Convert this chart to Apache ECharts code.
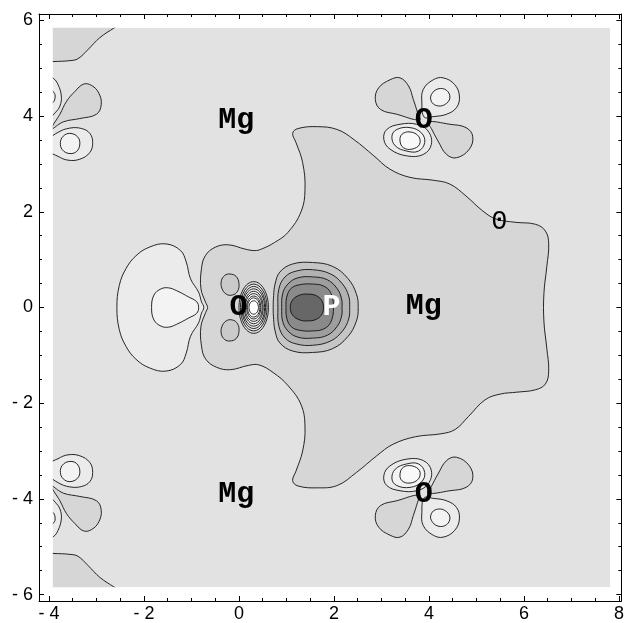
<!DOCTYPE html>
<html><head><meta charset="utf-8">
<script src="https://cdn.jsdelivr.net/npm/echarts@6/dist/echarts.min.js"></script>
<style>html,body{margin:0;padding:0;background:#fff}#c{width:627px;height:623px}</style>
</head><body><div id="c"></div>
<script>
// ---------- tick values ----------
const xMajor = [-4, -2, 0, 2, 4, 6, 8];
const yMajor = [-6, -4, -2, 0, 2, 4, 6];
const xMinor = [-4,-3.5,-3,-2.5,-2,-1.5,-1,-0.5,0,0.5,1,1.5,2,2.5,3,3.5,4,4.5,5,5.5,6,6.5,7,7.5,8];
const yMinor = [-6,-5.5,-5,-4.5,-4,-3.5,-3,-2.5,-2,-1.5,-1,-0.5,0,0.5,1,1.5,2,2.5,3,3.5,4,4.5,5,5.5,6];

// ---------- plotted region ----------
const regionX = [-3.92, 7.81];
const regionY = [-5.85, 5.85];

// ---------- contour outlines (data units) ----------
const centralZero = [[-0.66,0],[-0.70,0.10],[-0.80,0.39],[-0.79,0.81],[-0.71,1.08],[-0.50,1.26],[-0.22,1.31],[0.13,1.22],[0.33,1.19],[0.47,1.22],[0.75,1.36],[1.03,1.57],[1.31,2.01],[1.39,2.47],[1.34,3.03],[1.20,3.45],[1.13,3.64],[1.24,3.74],[1.65,3.78],[2.07,3.72],[2.42,3.51],[2.84,3.17],[3.18,2.89],[3.60,2.72],[4.09,2.66],[4.44,2.58],[4.78,2.33],[5.13,2.02],[5.41,1.85],[5.83,1.78],[6.24,1.74],[6.45,1.60],[6.52,1.33],[6.48,0.85],[6.42,0.30],[6.42,-0.30],[6.48,-0.85],[6.52,-1.33],[6.45,-1.60],[6.24,-1.72],[5.85,-1.77],[5.50,-1.81],[5.18,-1.93],[4.83,-2.28],[4.55,-2.55],[4.25,-2.64],[3.72,-2.70],[3.24,-2.86],[2.90,-3.10],[2.47,-3.45],[2.07,-3.72],[1.65,-3.77],[1.24,-3.73],[1.13,-3.62],[1.20,-3.42],[1.34,-3.00],[1.39,-2.50],[1.31,-2.04],[1.03,-1.63],[0.72,-1.36],[0.42,-1.20],[0.20,-1.21],[-0.18,-1.30],[-0.47,-1.25],[-0.70,-1.08],[-0.79,-0.80],[-0.80,-0.39],[-0.70,-0.10]];
const leftBlobOuter = [[-0.74,0],[-0.79,0.12],[-0.85,0.32],[-1.02,0.60],[-1.11,0.95],[-1.23,1.19],[-1.54,1.33],[-1.89,1.26],[-2.17,1.08],[-2.38,0.81],[-2.52,0.46],[-2.57,0],[-2.52,-0.46],[-2.38,-0.81],[-2.17,-1.08],[-1.89,-1.26],[-1.54,-1.33],[-1.23,-1.19],[-1.11,-0.95],[-1.02,-0.60],[-0.85,-0.32],[-0.79,-0.12]];
const leftBlobInner = [[-0.85,0],[-0.89,0.12],[-1.06,0.22],[-1.31,0.35],[-1.48,0.41],[-1.64,0.39],[-1.79,0.26],[-1.84,0],[-1.79,-0.26],[-1.64,-0.39],[-1.48,-0.41],[-1.31,-0.35],[-1.06,-0.22],[-0.89,-0.12]];
const oBlobTop = [[-0.19,0.70],[-0.06,0.65],[0.0,0.50],[-0.03,0.34],[-0.14,0.26],[-0.27,0.28],[-0.36,0.40],[-0.37,0.56],[-0.30,0.67]];
const oBlobBottom = [[-0.19,-0.70],[-0.06,-0.65],[0.0,-0.50],[-0.03,-0.34],[-0.14,-0.26],[-0.27,-0.28],[-0.36,-0.40],[-0.37,-0.56],[-0.30,-0.67]];
// dense rings next to the central O (centre, radii)
const wedgeCenter = [0.31, 0];
const wedgeRx = [0.31, 0.28, 0.25, 0.23, 0.20, 0.18, 0.15, 0.13, 0.10];
const wedgeRy = [0.54, 0.49, 0.44, 0.39, 0.34, 0.29, 0.24, 0.20, 0.14];
// rings round P
const pRing1 = [[0.72,0],[0.73,0.25],[0.76,0.49],[0.86,0.74],[1.13,0.91],[1.55,0.94],[1.97,0.86],[2.29,0.61],[2.47,0.29],[2.51,0],[2.47,-0.29],[2.29,-0.61],[1.97,-0.86],[1.55,-0.94],[1.13,-0.91],[0.86,-0.74],[0.76,-0.49],[0.73,-0.25]];
const pRing2 = [[0.82,0],[0.84,0.39],[0.97,0.64],[1.20,0.76],[1.55,0.79],[1.93,0.70],[2.18,0.49],[2.31,0.24],[2.33,0],[2.31,-0.24],[2.18,-0.49],[1.93,-0.70],[1.55,-0.79],[1.20,-0.76],[0.97,-0.64],[0.84,-0.39]];
const pRing3 = [[0.90,0],[0.92,0.29],[1.03,0.49],[1.24,0.62],[1.55,0.64],[1.86,0.58],[2.07,0.39],[2.16,0.18],[2.17,0],[2.16,-0.18],[2.07,-0.39],[1.86,-0.58],[1.55,-0.64],[1.24,-0.62],[1.03,-0.49],[0.92,-0.29]];
const pRing4 = [[0.99,0],[1.01,0.24],[1.11,0.41],[1.30,0.48],[1.55,0.49],[1.78,0.45],[1.93,0.31],[1.99,0],[1.93,-0.31],[1.78,-0.45],[1.55,-0.49],[1.30,-0.48],[1.11,-0.41],[1.01,-0.24]];
const pCore = [[1.08,0],[1.13,0.16],[1.28,0.26],[1.45,0.28],[1.62,0.25],[1.74,0.15],[1.78,0],[1.74,-0.15],[1.62,-0.25],[1.45,-0.28],[1.28,-0.26],[1.13,-0.16]];
// left corners
const cornerTop = [[-4.1,6.0],[-2.40,6.0],[-2.62,5.85],[-2.93,5.64],[-3.18,5.39],[-3.39,5.20],[-3.56,5.16],[-3.92,5.14],[-4.1,5.13]];
const cornerBottom = [[-4.1,-6.0],[-2.40,-6.0],[-2.62,-5.85],[-2.93,-5.64],[-3.18,-5.39],[-3.39,-5.20],[-3.56,-5.16],[-3.92,-5.14],[-4.1,-5.13]];
const edgeTopOuter = [[-4.1,4.85],[-3.91,4.79],[-3.81,4.66],[-3.74,4.42],[-3.77,4.21],[-3.87,4.07],[-3.95,4.0],[-4.1,3.98]];
const edgeTopInner = [[-4.1,4.6],[-3.92,4.52],[-3.87,4.42],[-3.92,4.28],[-4.1,4.22]];
const edgeBotOuter = [[-4.1,-4.85],[-3.91,-4.79],[-3.81,-4.66],[-3.74,-4.42],[-3.77,-4.21],[-3.87,-4.07],[-3.95,-4.0],[-4.1,-3.98]];
const edgeBotInner = [[-4.1,-4.6],[-3.92,-4.52],[-3.87,-4.42],[-3.92,-4.28],[-4.1,-4.22]];
const lobeTopLeft = [[-3.95,3.73],[-3.70,3.88],[-3.35,3.95],[-3.00,4.04],[-2.90,4.24],[-2.95,4.48],[-3.10,4.64],[-3.27,4.67],[-3.45,4.52],[-3.63,4.31],[-3.77,4.04]];
const lobeBotLeft = [[-3.95,-3.73],[-3.70,-3.88],[-3.35,-3.95],[-3.00,-4.04],[-2.90,-4.24],[-2.95,-4.48],[-3.10,-4.64],[-3.27,-4.67],[-3.45,-4.52],[-3.63,-4.31],[-3.77,-4.04]];
const ringTopLeftOuter = [[-4.0,3.50],[-3.81,3.66],[-3.56,3.75],[-3.31,3.74],[-3.14,3.64],[-3.08,3.45],[-3.14,3.24],[-3.35,3.10],[-3.60,3.08],[-3.81,3.16],[-4.0,3.28]];
const ringTopLeftInner = [[-3.56,3.64],[-3.40,3.57],[-3.35,3.42],[-3.42,3.26],[-3.58,3.22],[-3.72,3.30],[-3.76,3.45],[-3.70,3.58]];
const ringBotLeftOuter = [[-4.0,-3.50],[-3.81,-3.66],[-3.56,-3.75],[-3.31,-3.74],[-3.14,-3.64],[-3.08,-3.45],[-3.14,-3.24],[-3.35,-3.10],[-3.60,-3.08],[-3.81,-3.16],[-4.0,-3.28]];
const ringBotLeftInner = [[-3.56,-3.64],[-3.40,-3.57],[-3.35,-3.42],[-3.42,-3.26],[-3.58,-3.22],[-3.72,-3.30],[-3.76,-3.45],[-3.70,-3.58]];
// clover round the upper O
const cloverTopLobeA = [[3.80,3.92],[3.32,4.04],[2.98,4.14],[2.87,4.35],[2.94,4.59],[3.18,4.76],[3.39,4.80],[3.57,4.63],[3.67,4.35],[3.76,4.07]];
const cloverTopLobeB = [[3.98,3.88],[4.44,3.83],[4.78,3.76],[4.92,3.58],[4.85,3.31],[4.58,3.13],[4.37,3.20],[4.19,3.48],[4.05,3.74]];
const cloverTopRingA1 = [[3.90,3.98],[3.85,4.28],[3.88,4.56],[4.09,4.76],[4.30,4.80],[4.54,4.66],[4.64,4.42],[4.58,4.18],[4.37,4.04],[4.09,3.99]];
const cloverTopRingA2 = [[4.05,4.45],[4.19,4.57],[4.37,4.54],[4.44,4.38],[4.33,4.24],[4.16,4.22],[4.05,4.31]];
const cloverTopRingB1 = [[3.74,3.83],[3.39,3.83],[3.11,3.72],[3.05,3.51],[3.18,3.31],[3.53,3.17],[3.88,3.20],[4.05,3.41],[3.98,3.69]];
const cloverTopRingB2 = [[3.22,3.58],[3.32,3.72],[3.60,3.76],[3.84,3.65],[3.91,3.45],[3.78,3.27],[3.53,3.27],[3.29,3.38]];
const cloverTopRingB3 = [[3.43,3.62],[3.60,3.67],[3.78,3.58],[3.80,3.41],[3.64,3.31],[3.46,3.34],[3.39,3.48]];
// clover round the lower O
const cloverBotLobeA = [[3.80,-3.92],[3.32,-4.04],[2.98,-4.14],[2.87,-4.35],[2.94,-4.59],[3.18,-4.76],[3.39,-4.80],[3.57,-4.63],[3.67,-4.35],[3.76,-4.07]];
const cloverBotLobeB = [[3.98,-3.88],[4.44,-3.83],[4.78,-3.76],[4.92,-3.58],[4.85,-3.31],[4.58,-3.13],[4.37,-3.20],[4.19,-3.48],[4.05,-3.74]];
const cloverBotRingA1 = [[3.90,-3.98],[3.85,-4.28],[3.88,-4.56],[4.09,-4.76],[4.30,-4.80],[4.54,-4.66],[4.64,-4.42],[4.58,-4.18],[4.37,-4.04],[4.09,-3.99]];
const cloverBotRingA2 = [[4.05,-4.45],[4.19,-4.57],[4.37,-4.54],[4.44,-4.38],[4.33,-4.24],[4.16,-4.22],[4.05,-4.31]];
const cloverBotRingB1 = [[3.74,-3.83],[3.39,-3.83],[3.11,-3.72],[3.05,-3.51],[3.18,-3.31],[3.53,-3.17],[3.88,-3.20],[4.05,-3.41],[3.98,-3.69]];
const cloverBotRingB2 = [[3.22,-3.58],[3.32,-3.72],[3.60,-3.76],[3.84,-3.65],[3.91,-3.45],[3.78,-3.27],[3.53,-3.27],[3.29,-3.38]];
const cloverBotRingB3 = [[3.43,-3.62],[3.60,-3.67],[3.78,-3.58],[3.80,-3.41],[3.64,-3.31],[3.46,-3.34],[3.39,-3.48]];

// ---------- atom labels ----------
const atomText = ['Mg', 'Mg', 'Mg', 'O', 'O', 'O', 'P'];
const atomX    = [-0.06, -0.06, 3.89, -0.01, 3.89, 3.89, 1.95];
const atomY    = [3.91, -3.90, 0.02, 0.0, 3.90, -3.90, 0.0];
const contourLabelText = ['0'];
const contourLabelX = [5.48];
const contourLabelY = [1.79];

// ---------- styles ----------
const C = {
  bg: '#e2e2e2', pos1: '#d6d6d6', pos2: '#cacaca', neg1: '#ebebeb', neg2: '#f3f3f3', neg3: '#f9f9f9',
  p: ['#c6c6c6', '#b2b2b2', '#9e9e9e', '#8a8a8a', '#676767'],
  wedge: ['#e0e0e0', '#e6e6e6', '#ebebeb', '#efefef', '#f3f3f3', '#f6f6f6', '#f9f9f9', '#fcfcfc', '#ffffff']
};
const LINE = '#111';

const polyLayers = [];
function addPoly(pts, fill) { polyLayers.push({ kind: 'poly', pts, fill }); }
function addEllipse(c, rx, ry, fill) { polyLayers.push({ kind: 'ellipse', c, rx, ry, fill }); }

addPoly(centralZero, C.pos1);
addPoly(leftBlobOuter, C.neg1);
addPoly(leftBlobInner, C.neg2);
addPoly(oBlobTop, C.pos2);
addPoly(oBlobBottom, C.pos2);
wedgeRx.forEach((rx, i) => addEllipse(wedgeCenter, rx, wedgeRy[i], C.wedge[i]));
[pRing1, pRing2, pRing3, pRing4, pCore].forEach((r, i) => addPoly(r, C.p[i]));
addPoly(cornerTop, C.pos1);
addPoly(cornerBottom, C.pos1);
addPoly(edgeTopOuter, C.neg1); addPoly(edgeTopInner, C.neg2);
addPoly(edgeBotOuter, C.neg1); addPoly(edgeBotInner, C.neg2);
addPoly(lobeTopLeft, C.pos1); addPoly(lobeBotLeft, C.pos1);
addPoly(ringTopLeftOuter, C.neg1); addPoly(ringTopLeftInner, C.neg2);
addPoly(ringBotLeftOuter, C.neg1); addPoly(ringBotLeftInner, C.neg2);
addPoly(cloverTopLobeA, C.pos1); addPoly(cloverTopLobeB, C.pos1);
addPoly(cloverTopRingA1, C.neg1); addPoly(cloverTopRingA2, C.neg2);
addPoly(cloverTopRingB1, C.neg1); addPoly(cloverTopRingB2, C.neg2); addPoly(cloverTopRingB3, C.neg3);
addPoly(cloverBotLobeA, C.pos1); addPoly(cloverBotLobeB, C.pos1);
addPoly(cloverBotRingA1, C.neg1); addPoly(cloverBotRingA2, C.neg2);
addPoly(cloverBotRingB1, C.neg1); addPoly(cloverBotRingB2, C.neg2); addPoly(cloverBotRingB3, C.neg3);

const series = [];
// plotted-region background
series.push({
  type: 'custom', silent: true, animation: false, z: 2,
  data: [[regionX[0], regionY[0]]],
  renderItem: (params, api) => {
    const a = api.coord([regionX[0], regionY[1]]);
    const b = api.coord([regionX[1], regionY[0]]);
    return { type: 'rect', z2: 0, shape: { x: a[0], y: a[1], width: b[0] - a[0], height: b[1] - a[1] }, style: { fill: C.bg } };
  }
});
polyLayers.forEach((L, i) => {
  series.push({
    type: 'custom', silent: true, animation: false, z: 2,
    data: [L.kind === 'poly' ? L.pts[0] : L.c],
    renderItem: (params, api) => {
      if (L.kind === 'ellipse') {
        const c = api.coord(L.c);
        const s = api.size([L.rx, L.ry], L.c);
        return { type: 'ellipse', z2: i + 1, shape: { cx: c[0], cy: c[1], rx: s[0], ry: s[1] },
                 style: { fill: L.fill, stroke: LINE, lineWidth: 0.9 } };
      }
      return { type: 'polygon', z2: i + 1,
               shape: { points: L.pts.map(p => api.coord(p)), smooth: 0.4 },
               style: { fill: L.fill, stroke: LINE, lineWidth: 0.9 } };
    }
  });
});
// white surround outside the plotted region
series.push({
  type: 'custom', silent: true, animation: false, z: 3,
  data: [[regionX[0], regionY[0]]],
  renderItem: (params, api) => {
    const cs = params.coordSys;
    const a = api.coord([regionX[0], regionY[1]]);
    const b = api.coord([regionX[1], regionY[0]]);
    const W = '#ffffff', m = 3;
    const x0 = cs.x - m, y0 = cs.y - m, x1 = cs.x + cs.width + m, y1 = cs.y + cs.height + m;
    return { type: 'group', children: [
      { type: 'rect', shape: { x: x0, y: y0, width: x1 - x0, height: a[1] - y0 }, style: { fill: W } },
      { type: 'rect', shape: { x: x0, y: b[1], width: x1 - x0, height: y1 - b[1] }, style: { fill: W } },
      { type: 'rect', shape: { x: x0, y: y0, width: a[0] - x0, height: y1 - y0 }, style: { fill: W } },
      { type: 'rect', shape: { x: b[0], y: y0, width: x1 - b[0], height: y1 - y0 }, style: { fill: W } }
    ] };
  }
});
// atom labels
series.push({
  type: 'custom', silent: true, animation: false, z: 4,
  data: atomText.map((t, i) => [atomX[i], atomY[i]]),
  renderItem: (params, api) => {
    const i = params.dataIndex;
    const p = api.coord([api.value(0), api.value(1)]);
    const isP = atomText[i] === 'P';
    return { type: 'text', x: p[0], y: p[1], style: {
      text: atomText[i], fill: isP ? '#ffffff' : '#000000',
      font: 'bold 30px "Liberation Mono", "Courier New", monospace',
      align: 'center', verticalAlign: 'middle', textAlign: 'center', textVerticalAlign: 'middle' } };
  }
});
series.push({
  type: 'custom', silent: true, animation: false, z: 4,
  data: contourLabelText.map((t, i) => [contourLabelX[i], contourLabelY[i]]),
  renderItem: (params, api) => {
    const i = params.dataIndex;
    const p = api.coord([api.value(0), api.value(1)]);
    return { type: 'text', x: p[0], y: p[1], style: {
      text: contourLabelText[i], fill: '#000',
      font: '27px "Liberation Mono", "Courier New", monospace',
      align: 'center', verticalAlign: 'middle', textAlign: 'center', textVerticalAlign: 'middle' } };
  }
});

const fmt = v => (v < 0 ? '- ' + (-v) : String(v));
const lineStyle = { color: '#000', width: 1 };
const XMIN = -4.21, XMAX = 8.05, YMIN = -6.135, YMAX = 6.135;
function labelCfg(vals, margin) {
  return { show: true, customValues: vals, formatter: fmt, margin: margin,
           color: '#000', fontSize: 18, fontFamily: 'Liberation Sans' };
}
function xAx(pos, major, labels) {
  return {
    type: 'value', position: pos, min: XMIN, max: XMAX, z: 10,
    axisLine: { show: major, onZero: false, lineStyle },
    axisTick: { show: true, inside: true, length: major ? 5 : 3, customValues: major ? xMajor : xMinor, lineStyle },
    axisLabel: labels ? labelCfg(xMajor, 4) : { show: false },
    splitLine: { show: false }
  };
}
function yAx(pos, major, labels) {
  return {
    type: 'value', position: pos, min: YMIN, max: YMAX, z: 10,
    axisLine: { show: major, onZero: false, lineStyle },
    axisTick: { show: true, inside: true, length: major ? 5 : 3, customValues: major ? yMajor : yMinor, lineStyle },
    axisLabel: labels ? labelCfg(yMajor, 6) : { show: false },
    splitLine: { show: false }
  };
}

const chart = echarts.init(document.getElementById('c'), null, { renderer: 'canvas' });
chart.setOption({
  animation: false,
  backgroundColor: '#ffffff',
  grid: { left: 39, right: 1, top: 14, bottom: 20, containLabel: false },
  xAxis: [xAx('bottom', true, true), xAx('bottom', false, false), xAx('top', true, false), xAx('top', false, false)],
  yAxis: [yAx('left', true, true), yAx('left', false, false), yAx('right', true, false), yAx('right', false, false)],
  series: series.map(s => Object.assign({ coordinateSystem: 'cartesian2d', xAxisIndex: 0, yAxisIndex: 0 }, s))
});
</script></body></html>
